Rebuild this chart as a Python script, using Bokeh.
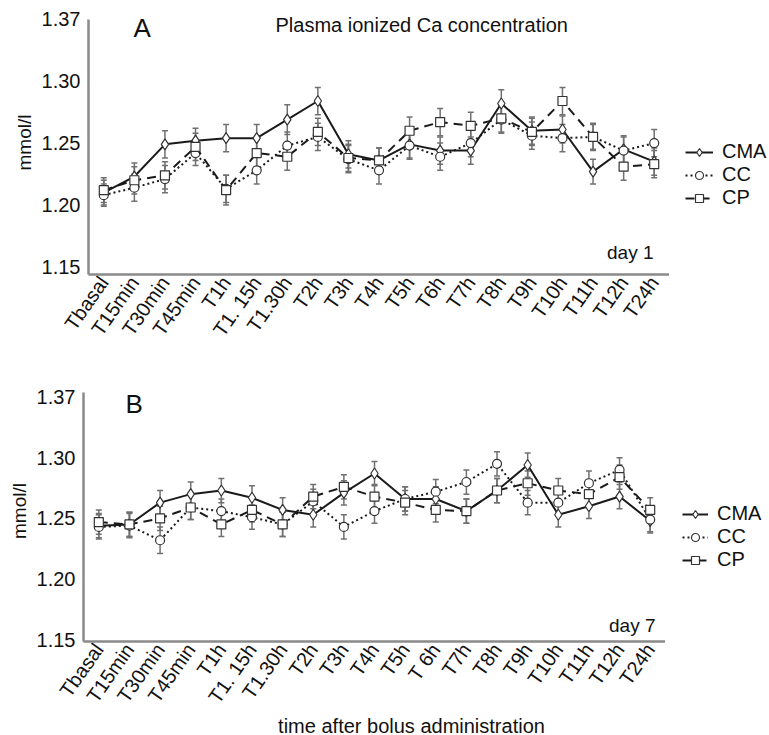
import math
from bokeh.plotting import figure
from bokeh.models import FactorRange, Range1d, FixedTicker, Label, Legend, LegendItem
from bokeh.layouts import column, row
from bokeh.embed import file_html
from bokeh.resources import INLINE

FONT = "Liberation Sans"

# ---------------- data ----------------
times_a = ["Tbasal", "T15min", "T30min", "T45min", "T1h", "T1. 15h", "T1.30h", "T2h", "T3h", "T4h",
           "T5h", "T6h", "T7h", "T8h", "T9h", "T10h", "T11h", "T12h", "T24h"]
times_b = ["Tbasal", "T15min", "T30min", "T45min", "T1h", "T1. 15h", "T1.30h", "T2h", "T3h", "T4h",
           "T5h", "T 6h", "T7h", "T8h", "T9h", "T10h", "T11h", "T12h", "T24h"]

# day 1 (panel A)
cma_a = [1.210, 1.223, 1.249, 1.252, 1.254, 1.254, 1.269, 1.284, 1.241, 1.236,
         1.249, 1.244, 1.244, 1.282, 1.260, 1.261, 1.227, 1.245, 1.235]
cc_a = [1.208, 1.214, 1.221, 1.242, 1.213, 1.228, 1.248, 1.255, 1.237, 1.228,
        1.248, 1.239, 1.250, 1.269, 1.256, 1.254, 1.255, 1.244, 1.250]
cp_a = [1.212, 1.220, 1.224, 1.247, 1.212, 1.242, 1.239, 1.259, 1.238, 1.236,
        1.260, 1.267, 1.264, 1.270, 1.259, 1.284, 1.255, 1.231, 1.233]
cma_a_err = [0.010, 0.011, 0.011, 0.010, 0.011, 0.011, 0.012, 0.011, 0.011, 0.010,
             0.011, 0.011, 0.011, 0.011, 0.011, 0.011, 0.010, 0.011, 0.011]
cc_a_err = [0.009, 0.011, 0.011, 0.010, 0.011, 0.011, 0.011, 0.011, 0.011, 0.011,
            0.011, 0.011, 0.011, 0.011, 0.011, 0.011, 0.010, 0.011, 0.011]
cp_a_err = [0.010, 0.011, 0.011, 0.011, 0.012, 0.011, 0.011, 0.011, 0.011, 0.010,
            0.011, 0.011, 0.011, 0.011, 0.011, 0.011, 0.011, 0.011, 0.011]

# day 7 (panel B)
cma_b = [1.244, 1.245, 1.263, 1.270, 1.273, 1.267, 1.257, 1.253, 1.271, 1.287,
         1.266, 1.266, 1.256, 1.273, 1.294, 1.253, 1.260, 1.268, 1.248]
cc_b = [1.243, 1.244, 1.232, 1.259, 1.256, 1.251, 1.245, 1.264, 1.243, 1.256,
        1.266, 1.272, 1.280, 1.295, 1.263, 1.263, 1.279, 1.290, 1.249]
cp_b = [1.247, 1.245, 1.250, 1.259, 1.245, 1.257, 1.245, 1.268, 1.276, 1.268,
        1.263, 1.257, 1.256, 1.273, 1.279, 1.273, 1.270, 1.284, 1.257]
cma_b_err = [0.010, 0.010, 0.010, 0.010, 0.010, 0.010, 0.010, 0.010, 0.010, 0.010,
             0.010, 0.010, 0.010, 0.010, 0.010, 0.010, 0.010, 0.010, 0.010]
cc_b_err = [0.010, 0.010, 0.011, 0.010, 0.010, 0.010, 0.010, 0.010, 0.010, 0.010,
            0.010, 0.010, 0.010, 0.010, 0.010, 0.010, 0.010, 0.010, 0.010]
cp_b_err = [0.010, 0.010, 0.010, 0.010, 0.010, 0.010, 0.010, 0.010, 0.010, 0.010,
            0.010, 0.010, 0.010, 0.010, 0.010, 0.010, 0.010, 0.010, 0.010]

series_names = ["CMA", "CC", "CP"]
y_ticks = [1.15, 1.20, 1.25, 1.30, 1.35]
y_tick_labels = ["1.15", "1.20", "1.25", "1.30", "1.37"]

STYLES = [
    dict(dash="solid", marker="diamond", size=11),
    dict(dash="2 3", marker="circle", size=9),
    dict(dash="9 6", marker="square", size=9),
]
LINE_KW = dict(line_color="#1a1a1a", line_width=2)
MARK_KW = dict(fill_color="white", line_color="#333333", line_width=1.2)


def blank(width, height, x_range=None):
    f = figure(width=width, height=height, output_backend="svg", toolbar_location=None,
               x_range=x_range if x_range is not None else Range1d(0, 1),
               y_range=Range1d(0, 1),
               x_axis_location=None, y_axis_location=None,
               min_border_left=0, min_border_right=0, min_border_top=0, min_border_bottom=0)
    f.outline_line_color = None
    f.xgrid.visible = False
    f.ygrid.visible = False
    return f


def legend_fig(width, height, factors, vals, loc, glyph_w):
    # legend-only figure: the series are drawn against a y range of 0..1, so
    # they stay out of view and only their legend samples appear
    f = blank(width, height, FactorRange(*factors))
    items = []
    for name, v, st in zip(series_names, vals, STYLES):
        ln = f.line(x=factors, y=v, line_dash=st["dash"], **LINE_KW)
        sc = f.scatter(x=factors, y=v, marker=st["marker"], size=st["size"], **MARK_KW)
        items.append(LegendItem(label=name, renderers=[ln, sc]))
    legend = Legend(items=items, location=loc, orientation="vertical",
                    glyph_width=glyph_w, glyph_height=20, label_standoff=9, spacing=0,
                    padding=0, margin=0, label_text_font=FONT, label_text_font_size="20px",
                    label_text_color="#111111", label_height=20,
                    background_fill_alpha=0, border_line_alpha=0)
    f.add_layout(legend, "center")
    return f


def make_panel(factors, vals, errs, y0, y1, ytop_axis, width, height, borders, letter,
               letter_pos, day_text, day_pos, show_title):
    p = figure(x_range=FactorRange(*factors), y_range=Range1d(y0, y1),
               width=width, height=height, output_backend="svg", toolbar_location=None,
               min_border_left=borders[0], min_border_right=borders[1],
               min_border_top=borders[2], min_border_bottom=borders[3])
    p.outline_line_color = None
    p.xgrid.visible = False
    p.ygrid.visible = False

    for v, e in zip(vals, errs):
        lo = [a - b for a, b in zip(v, e)]
        hi = [a + b for a, b in zip(v, e)]
        p.segment(x0=factors, y0=lo, x1=factors, y1=hi, line_color="#707070", line_width=1.5)
        p.scatter(x=factors, y=lo, marker="dash", size=6, line_color="#707070", line_width=1.5)
        p.scatter(x=factors, y=hi, marker="dash", size=6, line_color="#707070", line_width=1.5)
    for v, st in zip(vals, STYLES):
        p.line(x=factors, y=v, line_dash=st["dash"], **LINE_KW)
        p.scatter(x=factors, y=v, marker=st["marker"], size=st["size"], **MARK_KW)

    p.xaxis.major_label_orientation = math.radians(55)
    p.xaxis.major_tick_line_color = None
    p.xaxis.minor_tick_line_color = None
    p.xaxis.major_tick_out = 0
    p.xaxis.major_label_standoff = 4
    p.xaxis.axis_line_color = "#8a8a8a"
    p.xaxis.axis_line_width = 2.5
    p.xaxis.major_label_text_font = FONT
    p.xaxis.major_label_text_font_size = "20px"
    p.xaxis.major_label_text_color = "#111111"

    p.yaxis.ticker = FixedTicker(ticks=y_ticks)
    p.yaxis.major_label_overrides = {t: s for t, s in zip(y_ticks, y_tick_labels)}
    p.yaxis.bounds = (y0, ytop_axis)
    p.yaxis.major_tick_line_color = None
    p.yaxis.minor_tick_line_color = None
    p.yaxis.major_tick_out = 0
    p.yaxis.major_label_standoff = 8
    p.yaxis.axis_line_color = "#8a8a8a"
    p.yaxis.axis_line_width = 2.5
    p.yaxis.major_label_text_font = FONT
    p.yaxis.major_label_text_font_size = "20px"
    p.yaxis.major_label_text_color = "#111111"
    p.yaxis.axis_label = "mmol/l"
    p.yaxis.axis_label_text_font = FONT
    p.yaxis.axis_label_text_font_size = "19px"
    p.yaxis.axis_label_text_font_style = "normal"
    p.yaxis.axis_label_text_color = "#111111"
    p.yaxis.axis_label_standoff = 4

    p.add_layout(Label(x=letter_pos[0], y=letter_pos[1], x_units="screen", y_units="screen",
                       text=letter, text_font=FONT, text_font_size="26px",
                       text_baseline="middle", text_align="left", text_color="#111111"))
    p.add_layout(Label(x=day_pos[0], y=day_pos[1], x_units="screen", y_units="screen",
                       text=day_text, text_font=FONT, text_font_size="19px",
                       text_baseline="middle", text_align="right", text_color="#111111"))
    if show_title:
        p.add_layout(Label(x=187, y=250, x_units="screen", y_units="screen",
                           text="Plasma ionized Ca concentration", text_font=FONT,
                           text_font_size="20px", text_baseline="middle", text_align="left",
                           text_color="#111111"))
    return p


# panel A: frame 88..669 (x), 10..274 (y), axis line from ~20
pa = make_panel(times_a, [cma_a, cc_a, cp_a], [cma_a_err, cc_a_err, cp_a_err],
                1.1439, 1.3571, 1.3502, 669, 360, (88, 0, 10, 86), "A", (45, 247),
                "day 1", (565, 22), True)
la = legend_fig(100, 360, times_a, [cma_a, cc_a, cp_a], (16, 65), 28)

# panel B: frame 83..665 (x), 380..643 (y), axis line from ~392
pb = make_panel(times_b, [cma_b, cc_b, cp_b], [cma_b_err, cc_b_err, cp_b_err],
                1.1485, 1.3637, 1.3539, 665, 356, (83, 0, 20, 73), "B", (42, 238),
                "day 7", (572, 16), False)
lb = legend_fig(104, 356, times_b, [cma_b, cc_b, cp_b], (17, 70), 26)

# x-axis title strip
pt = blank(769, 19)
pt.add_layout(Label(x=411, y=10, x_units="screen", y_units="screen",
                    text="time after bolus administration", text_font=FONT,
                    text_font_size="20px", text_baseline="middle", text_align="center",
                    text_color="#111111"))

layout = column(row(pa, la, spacing=0), row(pb, lb, spacing=0), pt, spacing=0)
open("out.html", "w").write(file_html(layout, INLINE))
